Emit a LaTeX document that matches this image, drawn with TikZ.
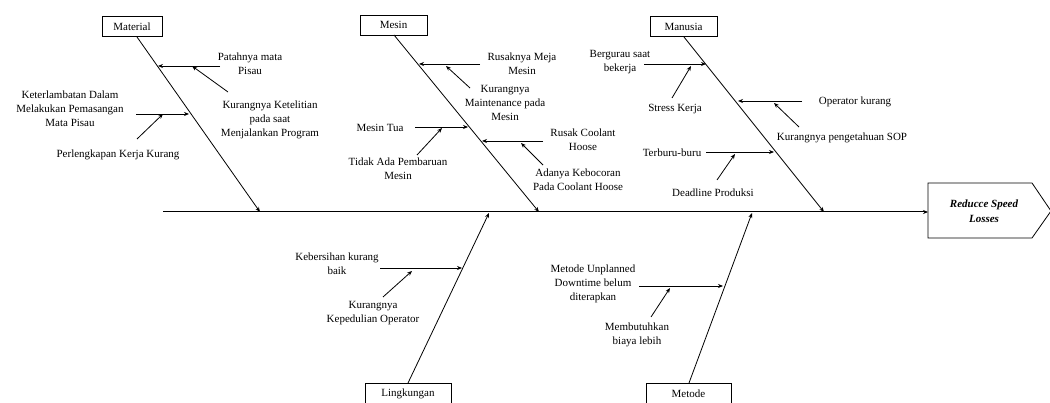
\documentclass[tikz,border=0pt]{standalone}
\usepackage{fontspec}
\setmainfont{Liberation Serif}
\usetikzlibrary{arrows.meta}
\begin{document}
\begin{tikzpicture}[x=1pt,y=-1pt,
  lbl/.style={align=center,font=\fontsize{11}{14}\selectfont,inner sep=0pt},
  cat/.style={draw,line width=0.8pt,font=\fontsize{11}{14}\selectfont,inner sep=0pt,minimum height=20pt},
  arr/.style={line width=0.8pt,-{Stealth[length=5pt,width=4pt]}},
  spine/.style={line width=1pt,-{Stealth[length=5pt,width=4pt]}}]
\useasboundingbox (0,0) rectangle (1050,403);

% category boxes
\node[cat,minimum width=60pt] (mat) at (132,26.5) {Material};
\node[cat,minimum width=67pt] (mes) at (393.5,25) {Mesin};
\node[cat,minimum width=67pt] (man) at (683.5,26.5) {Manusia};
\node[cat,minimum width=86pt,minimum height=22pt] (lin) at (408,394) {Lingkungan};
\node[cat,minimum width=85pt,minimum height=22pt] (met) at (688.5,394) {Metode};

% head
\draw[line width=0.8pt] (928,183) -- (1032,183) -- (1051,211) -- (1032,238) -- (928,238) -- cycle;
\node[align=center,inner sep=0pt,font=\fontsize{11}{15}\selectfont\bfseries\itshape] (head) at (984,211) {Reducce Speed\\Losses};
\coordinate (hw) at (928,212);
\coordinate (s0) at (163,212);
\draw[spine] (s0) -- (hw);

% bone coordinates
\coordinate (b1a) at (137,37);  \coordinate (b1b) at (260,212);
\coordinate (b2a) at (394,35);  \coordinate (b2b) at (539,212);
\coordinate (b3a) at (684,37);  \coordinate (b3b) at (824,212);
\coordinate (b4a) at (408,383); \coordinate (b4b) at (489,213);
\coordinate (b5a) at (689,383); \coordinate (b5b) at (752,213);
\draw[arr] (b1a) -- (b1b);
\draw[arr] (b2a) -- (b2b);
\draw[arr] (b3a) -- (b3b);
\draw[arr] (b4a) -- (b4b);
\draw[arr] (b5a) -- (b5b);

% Material
\node[lbl] (t1) at (250,64) {Patahnya mata\\Pisau};
\node[lbl] (t2) at (270,120) {Kurangnya Ketelitian\\pada saat\\Menjalankan Program};
\node[lbl] (t3) at (70,109) {Keterlambatan Dalam\\Melakukan Pemasangan\\Mata Pisau};
\node[lbl] (t4) at (118,155) {Perlengkapan Kerja Kurang};
\coordinate (a1s) at (220,66);  \coordinate (a1e) at (158,66);
\coordinate (a2s) at (228,92);  \coordinate (a2e) at (192,66);
\coordinate (a3s) at (136,114); \coordinate (a3e) at (189,114);
\coordinate (a4s) at (137,139); \coordinate (a4e) at (163,114);
\draw[arr] (a1s) -- (a1e);
\draw[arr] (a2s) -- (a2e);
\draw[arr] (a3s) -- (a3e);
\draw[arr] (a4s) -- (a4e);

% Mesin
\node[lbl] (t5) at (522,64) {Rusaknya Meja\\Mesin};
\node[lbl] (t6) at (505,103) {Kurangnya\\Maintenance pada\\Mesin};
\node[lbl] (t7) at (380,128) {Mesin Tua};
\node[lbl] (t8) at (398,169) {Tidak Ada Pembaruan\\Mesin};
\node[lbl] (t9) at (583,140) {Rusak Coolant\\Hoose};
\node[lbl] (t10) at (578,180) {Adanya Kebocoran\\Pada Coolant Hoose};
\coordinate (a5s) at (480,64);  \coordinate (a5e) at (419,64);
\coordinate (a6s) at (470,88);  \coordinate (a6e) at (446,66);
\coordinate (a7s) at (415,127); \coordinate (a7e) at (468,127);
\coordinate (a8s) at (417,155); \coordinate (a8e) at (442,128);
\coordinate (a9s) at (543,141); \coordinate (a9e) at (482,141);
\coordinate (a10s) at (543,165); \coordinate (a10e) at (521,143);
\draw[arr] (a5s) -- (a5e);
\draw[arr] (a6s) -- (a6e);
\draw[arr] (a7s) -- (a7e);
\draw[arr] (a8s) -- (a8e);
\draw[arr] (a9s) -- (a9e);
\draw[arr] (a10s) -- (a10e);

% Manusia
\node[lbl] (t11) at (620,62) {Bergurau saat\\bekerja};
\node[lbl] (t12) at (675,109) {Stress Kerja};
\node[lbl] (t13) at (855,102) {Operator kurang};
\node[lbl] (t14) at (842,138) {Kurangnya pengetahuan SOP};
\node[lbl] (t15) at (672,153) {Terburu-buru};
\node[lbl] (t16) at (713,193) {Deadline Produksi};
\coordinate (a11s) at (644,64);  \coordinate (a11e) at (706,64);
\coordinate (a12s) at (672,98);  \coordinate (a12e) at (691,66);
\coordinate (a13s) at (802,101); \coordinate (a13e) at (738,101);
\coordinate (a14s) at (799,127); \coordinate (a14e) at (774,103);
\coordinate (a15s) at (706,152); \coordinate (a15e) at (774,152);
\coordinate (a16s) at (717,180); \coordinate (a16e) at (735,154);
\draw[arr] (a11s) -- (a11e);
\draw[arr] (a12s) -- (a12e);
\draw[arr] (a13s) -- (a13e);
\draw[arr] (a14s) -- (a14e);
\draw[arr] (a15s) -- (a15e);
\draw[arr] (a16s) -- (a16e);

% Lingkungan
\node[lbl] (t17) at (337,264) {Kebersihan kurang\\baik};
\node[lbl] (t18) at (373,313) {Kurangnya\\Kepedulian Operator};
\coordinate (a17s) at (380,268); \coordinate (a17e) at (462,268);
\coordinate (a18s) at (383,297); \coordinate (a18e) at (412,271);
\draw[arr] (a17s) -- (a17e);
\draw[arr] (a18s) -- (a18e);

% Metode
\node[lbl] (t19) at (593,284) {Metode Unplanned\\Downtime belum\\diterapkan};
\node[lbl] (t20) at (637,335) {Membutuhkan\\biaya lebih};
\coordinate (a19s) at (639,286); \coordinate (a19e) at (723,286);
\coordinate (a20s) at (651,317); \coordinate (a20e) at (670,288);
\draw[arr] (a19s) -- (a19e);
\draw[arr] (a20s) -- (a20e);
\end{tikzpicture}
\end{document}
